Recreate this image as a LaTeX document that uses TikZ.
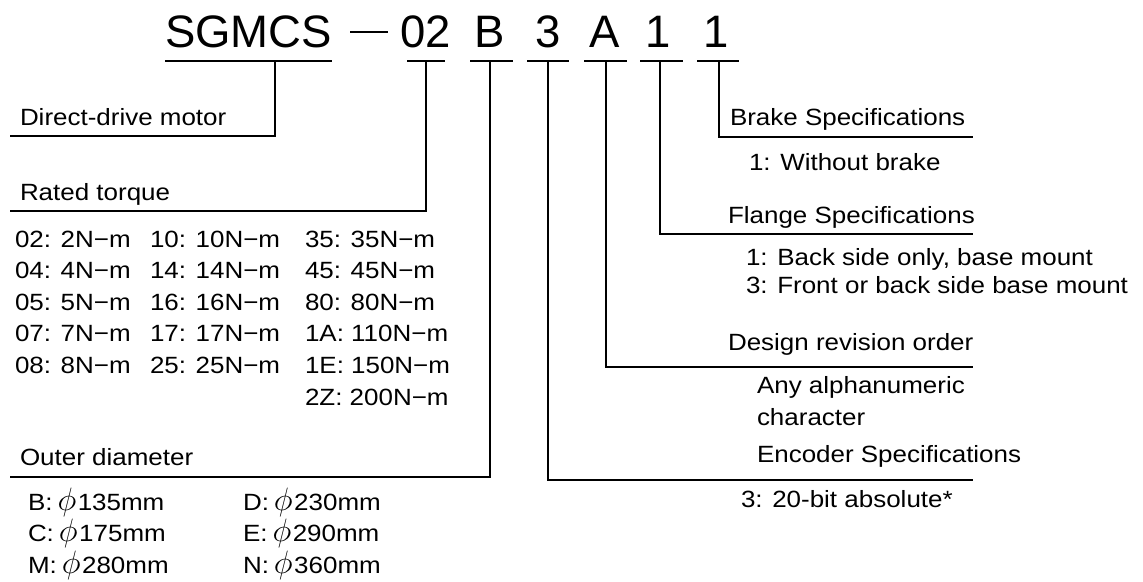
\documentclass[tikz,border=0pt]{standalone}
\usepackage{fontspec}
\setmainfont{Liberation Sans}[FakeStretch=1.105]
\newfontfamily\titlefont{Liberation Sans}
\newcommand{\dphi}{\hspace{5pt}\scalebox{1.3}{$\phi$}\hspace{1.5pt}}
\begin{document}
\begin{tikzpicture}[x=1pt,y=-1pt,
  txt/.style={anchor=base west,inner sep=0pt,outer sep=0pt,font=\fontsize{23.5}{28}\selectfont},
  ttl/.style={anchor=base,inner sep=0pt,outer sep=0pt,font=\titlefont\fontsize{45.5}{50}\selectfont},
  tick/.style={line width=1.3pt},
  conn/.style={line width=1.6pt}]
\useasboundingbox[fill=white] (0,0) rectangle (1143,581);

% title
\node[ttl,anchor=base west] (t0) at (165,47) {SGMCS};
\node[inner sep=0pt] (dash) at (369,32) {\rule{38pt}{1.5pt}};
\node[ttl] (t1) at (426,47) {02};
\node[ttl] (t2) at (490,47) {B};
\node[ttl] (t3) at (548,47) {3};
\node[ttl] (t4) at (605,47) {A};
\node[ttl] (t5) at (658,47) {1};
\node[ttl] (t6) at (716,47) {1};

% ticks
\coordinate (k0) at (275,61);
\coordinate (k1) at (426,61);
\coordinate (k2) at (490,61);
\coordinate (k3) at (548,61);
\coordinate (k4) at (606,61);
\coordinate (k5) at (660,61);
\coordinate (k6) at (719,61);
\draw[tick] (165,61) -- (332,61);
\draw[tick] (407,61) -- (445,61);
\draw[tick] (470,61) -- (513,61);
\draw[tick] (527,61) -- (569,61);
\draw[tick] (584,61) -- (627,61);
\draw[tick] (640,61) -- (683,61);
\draw[tick] (697,61) -- (739,61);

% line ends
\coordinate (e0) at (10,136);
\coordinate (e1) at (10,211);
\coordinate (e2) at (10,477);
\coordinate (e3) at (973,480);
\coordinate (e4) at (973,367);
\coordinate (e5) at (973,234);
\coordinate (e6) at (973,137);
\draw[conn] (k0) |- (e0);
\draw[conn] (k1) |- (e1);
\draw[conn] (k2) |- (e2);
\draw[conn] (k3) |- (e3);
\draw[conn] (k4) |- (e4);
\draw[conn] (k5) |- (e5);
\draw[conn] (k6) |- (e6);

% left labels
\node[txt] (l0) at (20,125) {Direct-drive motor};
\node[txt] (l1) at (20,200) {Rated torque};
\node[txt] (l2) at (20,465) {Outer diameter};

% torque table
\foreach \t [count=\i] in {02: 2N−m,04: 4N−m,05: 5N−m,07: 7N−m,08: 8N−m}
  \node[txt] (ta\i) at (15,{247+31.6*(\i-1)}) {\t};
\foreach \t [count=\i] in {10: 10N−m,14: 14N−m,16: 16N−m,17: 17N−m,25: 25N−m}
  \node[txt] (tb\i) at (150,{247+31.6*(\i-1)}) {\t};
\foreach \t [count=\i] in {35: 35N−m,45: 45N−m,80: 80N−m,1A: 110N−m,1E: 150N−m,2Z: 200N−m}
  \node[txt] (tc\i) at (305,{247+31.6*(\i-1)}) {\t};

% diameter table
\foreach \a/\b [count=\i] in {B/135,C/175,M/280}
  \node[txt] (da\i) at (28,{510+31.7*(\i-1)}) {\a:\dphi\b mm};
\foreach \a/\b [count=\i] in {D/230,E/290,N/360}
  \node[txt] (db\i) at (243,{510+31.7*(\i-1)}) {\a:\dphi\b mm};

% right labels
\node[txt] (r6) at (730,125) {Brake Specifications};
\node[txt] (r6a) at (749,170) {1: Without brake};
\node[txt] (r5) at (728,223) {Flange Specifications};
\node[txt] (r5a) at (746,265) {1: Back side only, base mount};
\node[txt] (r5b) at (746,293) {3: Front or back side base mount};
\node[txt] (r4) at (728,350) {Design revision order};
\node[txt] (r4a) at (757,393) {Any alphanumeric};
\node[txt] (r4b) at (757,425) {character};
\node[txt] (r3) at (757,462) {Encoder Specifications};
\node[txt] (r3a) at (741,507) {3: 20-bit absolute*};
\end{tikzpicture}
\end{document}
